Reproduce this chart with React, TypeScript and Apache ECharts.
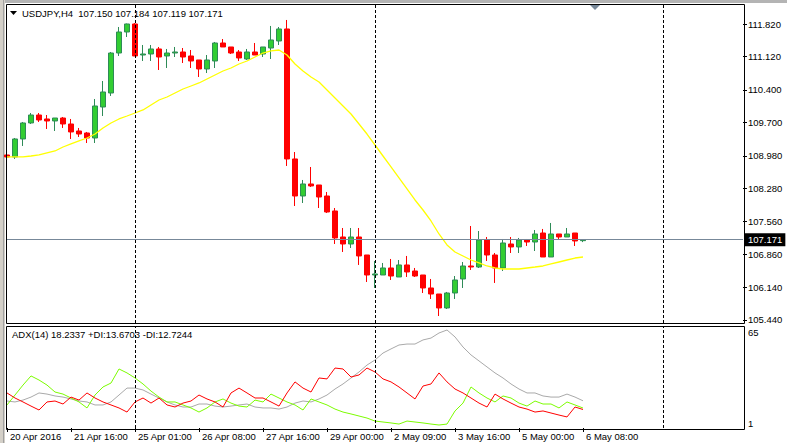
import React, { useEffect, useRef } from 'react';
import * as echarts from 'echarts';

// ---- data ----
const tickLabels = ['20 Apr 2016', '21 Apr 16:00', '25 Apr 01:00', '26 Apr 08:00', '27 Apr 16:00', '29 Apr 00:00', '2 May 09:00', '3 May 16:00', '5 May 00:00', '6 May 08:00'];
const barSlots = Array.from({ length: 93 }, (_, i) => String(i));
const labelEvery = 8;
const weekStarts = ['16', '46', '82'];

const opens = [
  108.997, 108.954, 109.342, 109.687, 109.859, 109.773, 109.730, 109.794, 109.665, 109.514,
  109.471, 109.363, 110.031, 110.333, 111.195, 111.648, 111.821, 111.152, 111.174, 111.282,
  111.131, 111.195, 111.217, 111.131, 111.045, 110.851, 111.023, 111.411, 111.325, 111.217,
  111.066, 111.217, 111.174, 111.303, 111.454, 111.713, 108.911, 108.113, 108.372, 108.350,
  108.113, 107.790, 107.229, 107.078, 107.229, 106.841, 106.410, 106.410, 106.561, 106.367,
  106.626, 106.496, 106.410, 106.130, 106.000, 105.699, 106.022, 106.324, 106.604, 106.582,
  107.164, 106.841, 106.561, 107.078, 107.014, 107.164, 107.121, 107.315, 106.798, 107.294,
  107.229, 107.315, 107.150,
];
const closes = [
  108.954, 109.342, 109.687, 109.859, 109.751, 109.730, 109.794, 109.665, 109.493, 109.449,
  109.363, 110.053, 110.355, 111.195, 111.648, 111.821, 111.131, 111.174, 111.282, 111.109,
  111.195, 111.217, 111.109, 111.023, 110.851, 111.045, 111.411, 111.325, 111.195, 111.088,
  111.217, 111.152, 111.325, 111.476, 111.713, 108.911, 108.113, 108.372, 108.329, 108.091,
  107.768, 107.208, 107.078, 107.229, 106.820, 106.410, 106.432, 106.561, 106.388, 106.626,
  106.475, 106.388, 106.130, 106.000, 105.699, 106.022, 106.302, 106.604, 106.582, 107.164,
  106.841, 106.561, 107.100, 107.014, 107.164, 107.121, 107.294, 106.798, 107.294, 107.229,
  107.294, 107.143, 107.171,
];
const lows = [
  108.760, 108.911, 109.191, 109.665, 109.708, 109.557, 109.514, 109.579, 109.342, 109.385,
  109.255, 109.255, 109.837, 110.269, 111.131, 111.540, 111.131, 111.023, 111.023, 110.829,
  110.872, 111.109, 110.980, 110.872, 110.678, 110.764, 110.872, 111.325, 111.174, 111.023,
  111.045, 111.152, 111.109, 111.066, 111.368, 108.760, 107.897, 107.962, 108.307, 107.854,
  107.746, 107.078, 106.906, 106.992, 106.626, 106.259, 106.130, 106.410, 106.302, 106.367,
  106.367, 106.367, 106.022, 105.893, 105.526, 105.677, 105.893, 106.130, 106.518, 106.561,
  106.712, 106.238, 106.496, 106.884, 106.884, 107.035, 106.927, 106.798, 106.798, 107.186,
  107.229, 107.035, 107.119,
];
const highs = [
  109.083, 109.363, 109.708, 109.902, 109.902, 109.859, 109.794, 109.816, 109.773, 109.579,
  109.493, 110.204, 110.592, 111.217, 111.756, 111.830, 111.840, 111.368, 111.368, 111.325,
  111.282, 111.325, 111.303, 111.260, 111.045, 111.152, 111.433, 111.497, 111.325, 111.260,
  111.282, 111.411, 111.325, 111.778, 111.756, 111.907, 109.061, 108.458, 108.738, 108.350,
  108.199, 107.854, 107.423, 107.423, 107.423, 106.841, 106.712, 106.669, 106.755, 106.733,
  106.820, 106.561, 106.410, 106.324, 106.000, 106.044, 106.388, 106.690, 107.466, 107.358,
  107.229, 106.884, 107.186, 107.229, 107.208, 107.186, 107.380, 107.402, 107.531, 107.294,
  107.423, 107.315, 107.184,
];
const movingAverage = [
  108.954, 108.954, 108.954, 108.975, 108.997, 109.040, 109.083, 109.169, 109.234, 109.299,
  109.363, 109.449, 109.579, 109.687, 109.773, 109.837, 109.902, 109.967, 110.075, 110.182,
  110.247, 110.333, 110.419, 110.484, 110.549, 110.635, 110.721, 110.807, 110.872, 110.958,
  111.023, 111.109, 111.195, 111.239, 111.260, 111.152, 110.958, 110.807, 110.678, 110.570,
  110.398, 110.225, 110.053, 109.880, 109.665, 109.449, 109.212, 108.975, 108.738, 108.501,
  108.264, 108.027, 107.811, 107.574, 107.294, 107.057, 106.906, 106.820, 106.733, 106.669,
  106.604, 106.561, 106.539, 106.539, 106.539, 106.561, 106.582, 106.604, 106.647, 106.690,
  106.733, 106.776, 106.798,
];
const adx = [
  18.1, 17.5, 18.7, 20.6, 23.2, 22.5, 21.3, 20.6, 19.4, 18.1,
  17.5, 15.6, 15.6, 17.5, 21.9, 26.3, 26.3, 25.1, 22.5, 20.0,
  17.5, 15.6, 14.3, 14.3, 16.2, 16.2, 14.9, 14.3, 14.9, 15.6,
  16.2, 14.3, 13.7, 13.7, 13.0, 14.3, 16.8, 18.1, 17.5, 19.4,
  21.9, 25.7, 28.9, 32.7, 36.5, 40.9, 44.1, 48.5, 51.1, 53.6,
  54.2, 54.2, 56.8, 58.0, 61.2, 63.1, 58.7, 52.3, 47.3, 43.5,
  39.7, 35.9, 32.7, 28.9, 25.7, 23.2, 23.2, 21.3, 20.6, 20.6,
  22.5, 20.6, 18.2337,
];
const plusDI = [
  15.6, 21.9, 28.2, 34.0, 31.4, 28.2, 23.8, 22.5, 20.0, 17.5,
  13.7, 21.9, 27.0, 29.5, 38.4, 35.9, 32.7, 28.9, 24.4, 20.6,
  17.5, 17.5, 15.6, 13.7, 11.1, 13.7, 17.5, 19.4, 16.8, 14.9,
  14.3, 18.7, 17.5, 22.5, 20.0, 17.5, 15.6, 12.4, 19.4, 17.5,
  15.6, 13.0, 11.1, 9.9, 8.6, 7.3, 5.4, 4.8, 4.2, 3.5,
  5.4, 4.8, 4.2, 3.5, 2.9, 3.5, 11.8, 16.8, 27.0, 23.2,
  20.0, 17.5, 21.3, 20.0, 16.8, 14.9, 18.1, 16.2, 16.2, 13.7,
  17.5, 15.6, 13.6703,
];
const minusDI = [
  23.2, 20.0, 17.5, 14.9, 12.4, 17.5, 18.1, 16.2, 20.6, 18.7,
  23.2, 20.0, 17.5, 15.6, 13.7, 11.1, 17.5, 20.0, 16.8, 20.0,
  15.6, 14.3, 16.8, 18.1, 21.9, 19.4, 17.5, 14.3, 23.2, 26.3,
  23.2, 20.0, 20.0, 17.5, 14.9, 23.2, 30.2, 26.3, 23.8, 32.7,
  32.1, 39.0, 38.4, 33.3, 34.6, 39.0, 36.5, 32.1, 30.2, 27.0,
  23.2, 19.4, 27.6, 28.9, 35.9, 30.2, 25.7, 23.2, 20.0, 16.8,
  14.3, 22.5, 19.4, 16.8, 14.3, 13.0, 11.1, 11.8, 10.5, 9.2,
  8.0, 14.3, 12.7244,
];
const priceTicks = [105.44, 106.14, 106.86, 107.56, 108.28, 108.98, 109.70, 110.40, 111.12, 111.82];
const adxTicks = [1, 65];
const lastPrice = 107.171;
const symbolTitle = 'USDJPY,H4\u00a0\u00a0107.150 107.184 107.119 107.171';
const adxTitle = 'ADX(14) 18.2337 +DI:13.6703 -DI:12.7244';

const FONT = 'Liberation Sans, Arial, sans-serif';
const FS = 9.5;

export default function App() {
  const ref = useRef<HTMLDivElement>(null);
  useEffect(() => {
    document.body.style.margin = '0';
    const chart = echarts.init(ref.current!, null, { renderer: 'svg' });
    const candles = opens.map((o, i) => [o, closes[i], lows[i], highs[i]]);
    const showTick = (i: number) => i % labelEvery === 0 && i / labelEvery < tickLabels.length;
    const sepLine = {
      silent: true,
      symbol: ['none', 'none'],
      label: { show: false },
      lineStyle: { color: '#000', type: [3, 2], width: 1 },
      data: weekStarts.map((w) => ({ xAxis: w })),
    };
    chart.setOption({
      animation: false,
      backgroundColor: '#fff',
      textStyle: { fontFamily: FONT },
      grid: [
        { left: 7, top: 5, width: 736, height: 318 },
        { left: 7, top: 327, width: 736, height: 101 },
      ],
      xAxis: [
        {
          type: 'category', gridIndex: 0, data: barSlots, boundaryGap: false,
          axisLine: { show: false }, axisTick: { show: false }, axisLabel: { show: false }, splitLine: { show: false },
        },
        {
          type: 'category', gridIndex: 1, data: barSlots, boundaryGap: false,
          axisLine: { show: false },
          axisTick: { show: true, interval: (i: number) => showTick(i), length: 4, lineStyle: { color: '#000' } },
          axisLabel: {
            show: true, interval: (i: number) => showTick(i),
            formatter: (_v: string, i: number) => tickLabels[i / labelEvery] ?? '',
            align: 'left', padding: [0, 0, 0, 3], margin: 3, fontSize: FS, color: '#000', fontFamily: FONT,
          },
          splitLine: { show: false },
        },
      ],
      yAxis: [
        {
          type: 'value', gridIndex: 0, position: 'right', min: 105.375, max: 112.23, scale: true,
          splitLine: { show: false }, axisLine: { show: false },
          axisTick: { show: true, customValues: priceTicks, length: 4, lineStyle: { color: '#000' } },
          axisLabel: { customValues: priceTicks, formatter: (v: number) => v.toFixed(3), margin: 5, fontSize: FS, color: '#000', fontFamily: FONT },
        },
        {
          type: 'value', gridIndex: 1, position: 'right', min: 1, max: 65,
          splitLine: { show: false }, axisLine: { show: false },
          axisTick: { show: false },
          axisLabel: {
            customValues: adxTicks, margin: 5, fontSize: FS, color: '#000', fontFamily: FONT,
            verticalAlignMinLabel: 'bottom', verticalAlignMaxLabel: 'top',
          },
        },
      ],
      series: [
        {
          type: 'candlestick', xAxisIndex: 0, yAxisIndex: 0, data: candles, barWidth: 5, clip: true,
          itemStyle: { color: '#32cd32', color0: '#ff0000', borderColor: '#2e8b57', borderColor0: '#ff0000', borderWidth: 1 },
          markLine: sepLine,
          z: 3,
        },
        {
          type: 'line', xAxisIndex: 0, yAxisIndex: 0, data: movingAverage, symbol: 'none', showSymbol: false,
          lineStyle: { color: '#ffff00', width: 1.3 }, itemStyle: { color: '#ffff00' }, z: 4,
          markLine: {
            silent: true, symbol: ['none', 'none'],
            lineStyle: { color: '#778899', type: 'solid', width: 1 },
            label: {
              show: true, position: 'end', formatter: lastPrice.toFixed(3), color: '#fff', backgroundColor: '#000',
              padding: [2, 3, 1, 3], fontSize: FS, distance: 2, fontFamily: FONT,
            },
            data: [{ yAxis: lastPrice }],
          },
        },
        {
          type: 'line', xAxisIndex: 1, yAxisIndex: 1, data: adx, symbol: 'none', showSymbol: false,
          lineStyle: { color: '#a9a9a9', width: 1 }, itemStyle: { color: '#a9a9a9' },
          markLine: sepLine,
        },
        {
          type: 'line', xAxisIndex: 1, yAxisIndex: 1, data: plusDI, symbol: 'none', showSymbol: false,
          lineStyle: { color: '#7cfc00', width: 1 }, itemStyle: { color: '#7cfc00' },
        },
        {
          type: 'line', xAxisIndex: 1, yAxisIndex: 1, data: minusDI, symbol: 'none', showSymbol: false,
          lineStyle: { color: '#ff0000', width: 1 }, itemStyle: { color: '#ff0000' },
        },
      ],
      graphic: [
        { type: 'rect', shape: { x: 0, y: 0, width: 787, height: 3 }, style: { fill: '#b4b4b4' }, silent: true },
        { type: 'rect', shape: { x: 0, y: 0, width: 5, height: 443 }, style: { fill: '#d4d0c8' }, silent: true },
        { type: 'rect', shape: { x: 3, y: 0, width: 1, height: 443 }, style: { fill: '#a0a0a0' }, silent: true },
        { type: 'rect', shape: { x: 6.5, y: 4.5, width: 738, height: 319 }, style: { fill: 'none', stroke: '#000', lineWidth: 1 }, silent: true, z: 10 },
        { type: 'rect', shape: { x: 6.5, y: 326.5, width: 738, height: 103 }, style: { fill: 'none', stroke: '#000', lineWidth: 1 }, silent: true, z: 10 },
        { type: 'polygon', shape: { points: [[10, 11], [17, 11], [13.5, 15]] }, style: { fill: '#000' }, silent: true, z: 10 },
        { type: 'polygon', shape: { points: [[590, 5], [600, 5], [595, 10]] }, style: { fill: '#778899' }, silent: true, z: 10 },
        {
          type: 'text', x: 22, y: 13, silent: true, z: 10,
          style: { text: symbolTitle, fill: '#000', font: `${FS}px ${FONT}`, textVerticalAlign: 'middle', verticalAlign: 'middle' },
        },
        {
          type: 'text', x: 12, y: 334, silent: true, z: 10,
          style: { text: adxTitle, fill: '#000', font: `${FS}px ${FONT}`, textVerticalAlign: 'middle', verticalAlign: 'middle' },
        },
      ],
    });
    return () => chart.dispose();
  }, []);
  return <div ref={ref} style={{ width: 787, height: 443 }} />;
}
